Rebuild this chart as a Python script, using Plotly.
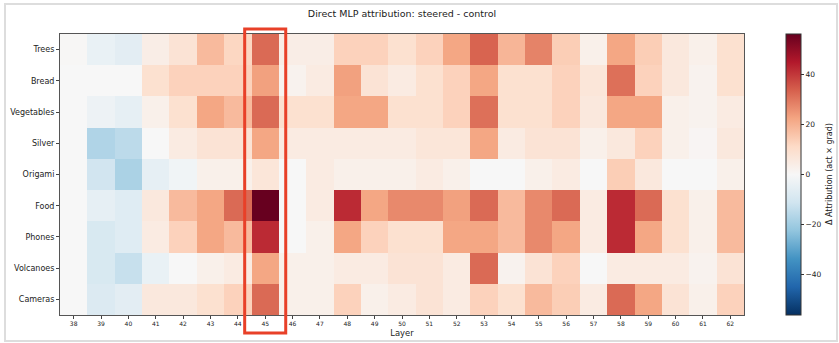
import plotly.graph_objects as go

layers = list(range(38, 63))
concepts = ["Trees", "Bread", "Vegetables", "Silver", "Origami", "Food", "Phones", "Volcanoes", "Cameras"]

trees      = [0.5, -4, -6, 4, 8, 18, 12, 32, 4, 4, 13, 13, 9, 13, 22, 33, 19, 28, 14, 3, 22, 14, 6, 3, 9]
bread      = [0, 0, 0, 9, 13, 13, 13, 23, 2, 5, 23, 8, 5, 9, 13, 22, 9, 9, 13, 7, 31, 13, 6, 2, 9]
vegetables = [0, -3, -5, 3, 9, 22, 18, 32, 9, 9, 22, 22, 9, 9, 13, 31, 9, 9, 13, 6, 22, 22, 3, 2, 5]
silver     = [0, -17, -15, 0, 5, 8, 8, 22, 5, 5, 5, 5, 5, 7, 7, 22, 5, 8, 8, 3, 6, 13, 3, 1, 6]
origami    = [0, -11, -18, -5, -2, 3, 3, 7, 0, 5, 3, 3, 3, 5, 3, 0, 0, 3, 5, 0, 14, 6, 0, 0, 3]
food       = [0, -5, -7, 6, 18, 22, 32, 56, 0, 5, 42, 22, 27, 27, 23, 32, 18, 27, 32, 5, 42, 32, 9, 3, 18]
phones     = [0, -9, -7, 5, 13, 22, 18, 42, 0, 3, 22, 13, 9, 9, 22, 22, 18, 27, 22, 5, 42, 22, 9, 3, 18]
volcanoes  = [0, -9, -13, -4, 0, 3, 5, 22, 3, 3, 5, 5, 8, 8, 5, 32, 2, 8, 13, 0, 5, 5, 5, 2, 8]
cameras    = [0, -8, -6, 6, 6, 9, 13, 32, 3, 3, 13, 3, 5, 8, 5, 13, 9, 18, 14, 5, 32, 22, 8, 3, 13]

z = [trees, bread, vegetables, silver, origami, food, phones, volcanoes, cameras]
highlight_layer = 45

rdbu = ['rgb(5,48,97)', 'rgb(33,102,172)', 'rgb(67,147,195)', 'rgb(146,197,222)', 'rgb(209,229,240)',
        'rgb(247,247,247)', 'rgb(253,219,199)', 'rgb(244,165,130)', 'rgb(214,96,77)', 'rgb(178,24,43)',
        'rgb(103,0,31)']
colorscale = [[i / 10, c] for i, c in enumerate(rdbu)]

font = "DejaVu Sans"

fig = go.Figure(go.Heatmap(
    z=z, x=layers, y=concepts,
    colorscale=colorscale, zmin=-56, zmax=56,
    colorbar=dict(
        x=1.0614, xanchor="left", y=0.5, yanchor="middle",
        len=1.0, lenmode="fraction", thickness=15, xpad=0, ypad=0,
        outlinecolor="#333", outlinewidth=1,
        tickvals=[-40, -20, 0, 20, 40], ticks="outside", ticklen=3, tickcolor="#333",
        tickfont=dict(family=font, size=7.5, color="#222"),
    ),
))

fig.update_layout(
    width=839, height=343,
    margin=dict(l=60, r=95, t=34, b=28, autoexpand=False),
    paper_bgcolor="white", plot_bgcolor="white",
    title=dict(text="Direct MLP attribution: steered - control", x=0.5, xref="paper", xanchor="center",
               y=1 - 14 / 343, yanchor="middle",
               font=dict(family=font, size=9.5, color="#222")),
    xaxis=dict(tickmode="array", tickvals=layers, ticktext=[str(l) for l in layers],
               tickfont=dict(family=font, size=6, color="#222"),
               ticks="outside", ticklen=3, tickcolor="#444",
               showline=True, linecolor="#555", linewidth=1, mirror=True,
               title=dict(text="Layer", font=dict(family=font, size=8.4, color="#222"), standoff=3),
               showgrid=False, zeroline=False),
    yaxis=dict(autorange="reversed",
               tickfont=dict(family=font, size=8, color="#222"),
               ticks="outside", ticklen=3, tickcolor="#444",
               showline=True, linecolor="#555", linewidth=1, mirror=True,
               showgrid=False, zeroline=False),
    annotations=[
        dict(text="Δ Attribution (act × grad)", xref="paper", yref="paper",
             x=(829.5 - 60) / 684, y=0.5, xanchor="center", yanchor="middle",
             textangle=-90, showarrow=False,
             font=dict(family=font, size=8, color="#222")),
    ],
    shapes=[
        dict(type="rect", xref="x", yref="paper",
             x0=highlight_layer - 0.75, x1=highlight_layer + 0.75,
             y0=-0.064, y1=1.018,
             line=dict(color="rgb(232,64,40)", width=3), fillcolor="rgba(0,0,0,0)"),
        dict(type="rect", xref="paper", yref="paper",
             x0=-0.0804, x1=1.136, y0=-0.0925, y1=1.1068,
             line=dict(color="#dddddd", width=2), fillcolor="rgba(0,0,0,0)", layer="below"),
    ],
)

fig.write_html("out.html")
